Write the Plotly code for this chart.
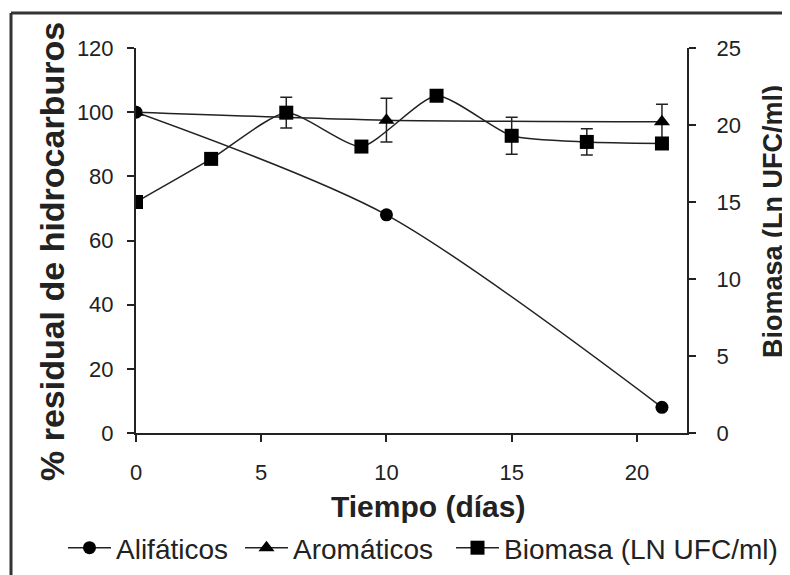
import plotly.graph_objects as go

# Data
dias_ali = [0, 10, 21]
alifaticos = [100, 68, 8]

dias_aro = [0, 10, 21]
aromaticos = [100, 97.5, 97]
aromaticos_err = [0, 6.8, 5.5]

dias_bio = [0, 3, 6, 9, 12, 15, 18, 21]
biomasa = [15.0, 17.8, 20.8, 18.6, 21.9, 19.3, 18.9, 18.8]
biomasa_err = [0, 0, 1.0, 0, 0, 1.2, 0.85, 0]

x_ticks = [0, 5, 10, 15, 20]
y1_ticks = [0, 20, 40, 60, 80, 100, 120]
y2_ticks = [0, 5, 10, 15, 20, 25]

FONT = "Liberation Sans, Arial, sans-serif"
LC = "#222222"
TC = "#222222"

fig = go.Figure()
fig.add_trace(go.Scatter(
    x=dias_ali, y=alifaticos, name="Alifáticos", mode="lines+markers", legend="legend",
    line=dict(color=LC, width=1.5, shape="spline", smoothing=0.8),
    marker=dict(symbol="circle", size=13, color="black"),
))
fig.add_trace(go.Scatter(
    x=dias_aro, y=aromaticos, name="Aromáticos", mode="lines+markers", legend="legend2",
    line=dict(color=LC, width=1.5, shape="spline", smoothing=0.6),
    marker=dict(symbol="triangle-up", size=14, color="black"),
    error_y=dict(type="data", array=aromaticos_err, color=LC, thickness=1.5, width=6),
))
fig.add_trace(go.Scatter(
    x=dias_bio, y=biomasa, name="Biomasa (LN UFC/ml)", legend="legend3",
    mode="lines+markers", yaxis="y2",
    line=dict(color=LC, width=1.5, shape="spline", smoothing=0.6),
    marker=dict(symbol="square", size=14, color="black"),
    error_y=dict(type="data", array=biomasa_err, color=LC, thickness=1.5, width=6),
))

# page body has an 8px margin: work in figure coordinates
W, H = 782, 567
L, T = 128, 40
R, B = W - 679, H - 425
pw, ph = W - L - R, H - T - B

def px_x(p):
    return (p - L) / pw

def px_y(p):
    return (H - B - p) / ph

def leg(xpx):
    return dict(orientation="h", xref="container", yref="container",
                x=xpx / W, xanchor="left", y=(H - 540) / H, yanchor="middle",
                font=dict(family=FONT, size=28, color=TC), itemwidth=43,
                bgcolor="rgba(0,0,0,0)", borderwidth=0)

fig.update_layout(
    width=W, height=H,
    margin=dict(l=L, r=R, t=T, b=B, autoexpand=False),
    paper_bgcolor="white", plot_bgcolor="white",
    font=dict(family=FONT, color=TC, size=22),
    showlegend=True,
    legend=leg(55), legend2=leg(232), legend3=leg(443),
    xaxis=dict(range=[0, 22], tickvals=x_ticks, showgrid=False, zeroline=False,
               showline=True, linecolor=LC, linewidth=2, ticks="outside", ticklen=7,
               tickwidth=2, tickcolor=LC, ticklabelstandoff=12,
               tickfont=dict(size=22, family=FONT)),
    yaxis=dict(range=[0, 120], tickvals=y1_ticks, showgrid=False, zeroline=False,
               showline=True, linecolor=LC, linewidth=2, ticks="outside", ticklen=7,
               tickwidth=2, tickcolor=LC, ticklabelstandoff=9,
               tickfont=dict(size=22, family=FONT)),
    yaxis2=dict(range=[0, 25], tickvals=y2_ticks, overlaying="y", side="right",
                showgrid=False, zeroline=False,
                showline=True, linecolor=LC, linewidth=2, ticks="outside", ticklen=7,
                tickwidth=2, tickcolor=LC, ticklabelstandoff=16,
                tickfont=dict(size=22, family=FONT)),
)

# Axis titles
fig.add_annotation(text="<b>% residual de hidrocarburos</b>", xref="paper", yref="paper",
                   x=px_x(44), y=px_y(244), xanchor="center", yanchor="middle",
                   textangle=-90, showarrow=False, font=dict(size=34, family=FONT, color=TC))
fig.add_annotation(text="<b>Tiempo (días)</b>", xref="paper", yref="paper",
                   x=px_x(420), y=px_y(498), xanchor="center", yanchor="middle",
                   showarrow=False, font=dict(size=30, family=FONT, color=TC))
fig.add_annotation(text="<b>Biomasa (Ln UFC/ml)</b>", xref="paper", yref="paper",
                   x=px_x(765), y=px_y(214), xanchor="center", yanchor="middle",
                   textangle=-90, showarrow=False, font=dict(size=27, family=FONT, color=TC))

# Decorative frame (top and left edges)
fig.add_shape(type="line", xref="paper", yref="paper",
              x0=px_x(3), x1=px_x(W), y0=px_y(5), y1=px_y(5),
              line=dict(color="#333333", width=3))
fig.add_shape(type="line", xref="paper", yref="paper",
              x0=px_x(3), x1=px_x(3), y0=px_y(5), y1=px_y(H),
              line=dict(color="#333333", width=3))

fig.write_html("out.html")
